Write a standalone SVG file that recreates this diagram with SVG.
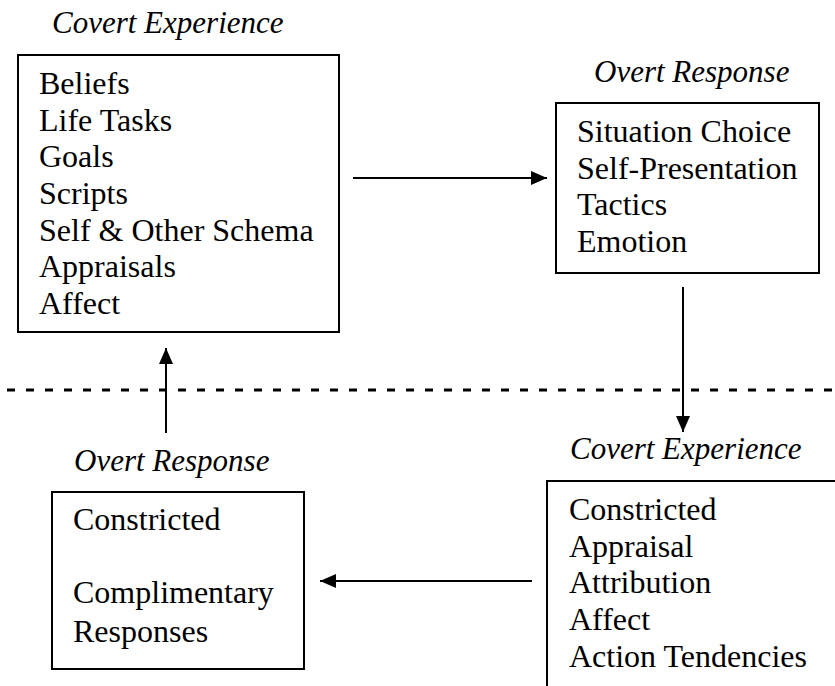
<svg xmlns="http://www.w3.org/2000/svg" width="835" height="686" viewBox="0 0 835 686">
<style>
  text { font-family: "Liberation Serif", "Times New Roman", serif; font-size: 32px; fill: #000; }
  .title { font-style: italic; font-size: 31px; }
  .box { fill: #fff; stroke: #000; stroke-width: 2; }
  .conn { stroke: #000; stroke-width: 2; fill: none; }
  .dash { stroke: #000; stroke-width: 3; stroke-dasharray: 8 11; fill: none; }
</style>
<defs>
  <marker id="arrow" viewBox="0 0 16 14" refX="16" refY="7" markerWidth="16" markerHeight="14" markerUnits="userSpaceOnUse" orient="auto">
    <path d="M0,0 L16,7 L0,14 Z" fill="#000"/>
  </marker>
</defs>
<rect width="835" height="686" fill="#fff"/>

<g id="connectors">
  <line class="dash" x1="7" y1="390" x2="835" y2="390"/>
  <line class="conn" x1="353" y1="178" x2="547" y2="178" marker-end="url(#arrow)"/>
  <line class="conn" x1="683" y1="287" x2="683" y2="432" marker-end="url(#arrow)"/>
  <line class="conn" x1="532" y1="581" x2="320" y2="581" marker-end="url(#arrow)"/>
  <line class="conn" x1="166" y1="433" x2="166" y2="348" marker-end="url(#arrow)"/>
</g>

<g id="covert-experience-top">
  <text class="title" x="52" y="33">Covert Experience</text>
  <rect class="box" x="18" y="55" width="321" height="277"/>
  <text x="39" y="94">Beliefs</text>
  <text x="39" y="131">Life Tasks</text>
  <text x="39" y="167">Goals</text>
  <text x="39" y="204">Scripts</text>
  <text x="39" y="241">Self &amp; Other Schema</text>
  <text x="39" y="277">Appraisals</text>
  <text x="39" y="314">Affect</text>
</g>

<g id="overt-response-top">
  <text class="title" x="594" y="82">Overt Response</text>
  <rect class="box" x="556" y="103" width="263" height="170"/>
  <text x="577" y="142">Situation Choice</text>
  <text x="577" y="179">Self-Presentation</text>
  <text x="577" y="215">Tactics</text>
  <text x="577" y="252">Emotion</text>
</g>

<g id="covert-experience-bottom">
  <text class="title" x="570" y="459">Covert Experience</text>
  <path class="conn" d="M547,690 L547,481 L840,481"/>
  <text x="569" y="520">Constricted</text>
  <text x="569" y="557">Appraisal</text>
  <text x="569" y="593">Attribution</text>
  <text x="569" y="630">Affect</text>
  <text x="569" y="667">Action Tendencies</text>
</g>

<g id="overt-response-bottom">
  <text class="title" x="74" y="471">Overt Response</text>
  <rect class="box" x="52" y="492" width="252" height="177"/>
  <text x="73" y="530">Constricted</text>
  <text x="73" y="603">Complimentary</text>
  <text x="73" y="642">Responses</text>
</g>
</svg>
